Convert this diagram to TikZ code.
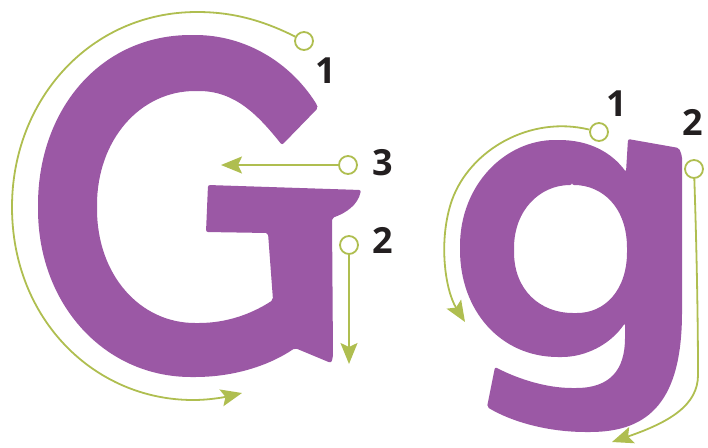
\documentclass[tikz,border=0pt]{standalone}
\usepackage{fontspec}
\setmainfont{Open Sans}
\usetikzlibrary{arrows.meta}
\definecolor{letter}{HTML}{9B58A5}
\definecolor{guide}{HTML}{AFBE50}
\definecolor{numc}{HTML}{231F20}
\tikzset{
  startdot/.style={circle,draw=guide,line width=1.8pt,fill=white,minimum size=18pt,inner sep=0pt},
  guidearrow/.style={draw=guide,line width=1.8pt,-{Stealth[length=21pt,width=17pt,inset=4pt]}},
  num/.style={text=numc,font=\fontsize{36}{36}\selectfont\bfseries,inner sep=0pt},
  glyph/.style={fill=letter,draw=none}
}
\begin{document}
\begin{tikzpicture}[x=1pt,y=-1pt]
\useasboundingbox (0,0) rectangle (708,447);
% Capital G
\path[glyph,rounded corners=2pt] (317,105)
  .. controls (290,62) and (245,35) .. (193,35)
  .. controls (100,35) and (38,110) .. (38,207)
  .. controls (38,305) and (105,377) .. (193,377)
  .. controls (235,377) and (270,365) .. (295,348)
  -- (331,363) -- (333,357)
  -- (332,218)
  .. controls (346,213) and (358,205) .. (361,190)
  -- (208,185) -- (206,232)
  -- (268,233)
  -- (273,300)
  .. controls (250,315) and (225,323) .. (197,323)
  .. controls (140,323) and (97,275) .. (97,207)
  .. controls (97,140) and (140,91) .. (197,91)
  .. controls (235,91) and (258,115) .. (282,145)
  -- (318,108) -- cycle;
% small g
\path[glyph,even odd rule,rounded corners=2pt] (626,172)
  -- (628,139) -- (679,148) -- (682,156)
  -- (682,310)
  .. controls (682,400) and (650,432) .. (588,432)
  .. controls (548,432) and (512,422) .. (487,407)
  -- (495,367)
  .. controls (520,380) and (548,388) .. (574,388)
  .. controls (610,388) and (625,370) .. (625,336)
  -- (625,323)
  .. controls (610,345) and (585,357) .. (560,357)
  .. controls (500,357) and (460,310) .. (460,248)
  .. controls (460,185) and (505,140) .. (557,140)
  .. controls (590,140) and (612,153) .. (626,172) -- cycle
  (572,185) .. controls (602,185) and (627,207) .. (627,250)
  .. controls (627,290) and (605,313) .. (575,313)
  .. controls (540,313) and (514,290) .. (514,250)
  .. controls (514,210) and (540,185) .. (572,185) -- cycle;
% start dots
\node[startdot] (G1s) at (304,41) {};
\node[startdot] (G3s) at (348,165) {};
\node[startdot] (G2s) at (349,245) {};
\node[startdot] (g1s) at (599,132) {};
\node[startdot] (g2s) at (694,169) {};
% end points
\coordinate (G1e) at (242,393);
\coordinate (G3e) at (221,165);
\coordinate (G2e) at (349,364);
\coordinate (g1e) at (465,322);
\coordinate (g2e) at (612,442);
% guide arrows
\draw[guidearrow] (G1s) .. controls (262,20) and (232,12) .. (197,12)
  .. controls (90,12) and (12,100) .. (12,207)
  .. controls (12,320) and (95,400) .. (193,400)
  .. controls (210,400) and (225,397) .. (G1e);
\draw[guidearrow] (G3s) -- (G3e);
\draw[guidearrow] (G2s) -- (G2e);
\draw[guidearrow] (g1s) .. controls (530,115) and (470,150) .. (452,200)
  .. controls (438,240) and (445,290) .. (g1e);
\draw[guidearrow] (g2s) .. controls (697,260) and (698,330) .. (698,375)
  .. controls (698,405) and (670,422) .. (g2e);
% numbers
\node[num] (n1) at (326,71) {1};
\node[num] (n3) at (383,163) {3};
\node[num] (n2) at (383,240) {2};
\node[num] (m1) at (617,104) {1};
\node[num] (m2) at (693,122) {2};
\end{tikzpicture}
\end{document}
